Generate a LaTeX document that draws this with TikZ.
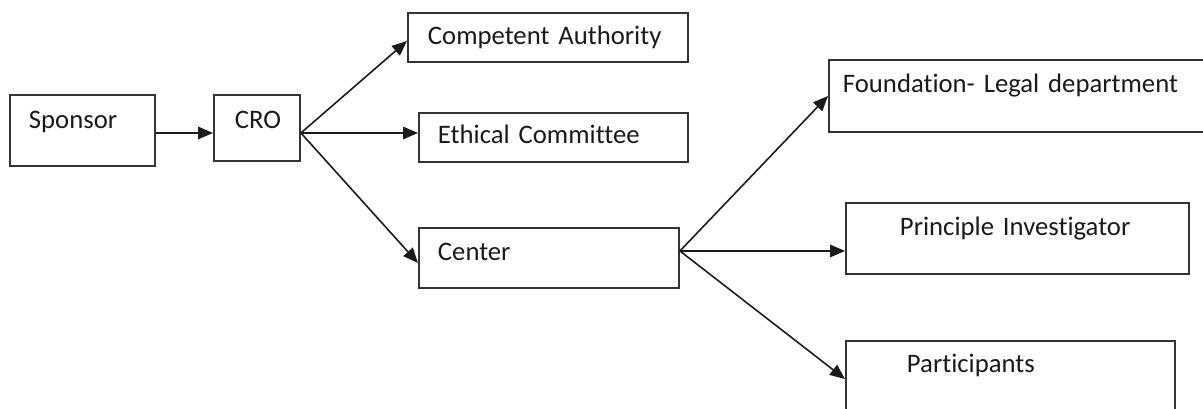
\documentclass[tikz,border=0pt]{standalone}
\usepackage{fontspec}
\setmainfont{Carlito}[Ligatures=CommonOff, WordSpace=0.8]
\usetikzlibrary{arrows.meta}

\definecolor{boxgray}{HTML}{333333}
\definecolor{textblack}{HTML}{1A1A1A}

\begin{document}
\begin{tikzpicture}[
    box/.style n args={4}{rectangle, draw=boxgray, line width=1.1pt, anchor=north west,
                inner sep=0pt, align=left, text=textblack,
                font=\fontsize{15.2}{18}\selectfont,
                text width=#1cm, text height=#2cm, text depth=#3cm,
                execute at begin node={\hspace*{#4cm}}},
    arrow/.style={-{Triangle[length=0.3cm,width=0.25cm]}, line width=0.9pt, draw=textblack}
]
\useasboundingbox (0,0) rectangle (24.06,-8.16);

% left part
\node[box={2.90}{0.68}{0.74}{0.38}] (sponsor) at (0.18,-1.88) {Sponsor};
\node[box={1.72}{0.68}{0.64}{0.42}] (cro) at (4.26,-1.88) {CRO};
\node[box={5.60}{0.64}{0.34}{0.40}] (ca) at (8.14,-0.24) {Competent Authority};
\node[box={5.38}{0.62}{0.36}{0.38}] (ec) at (8.36,-2.24) {Ethical Committee};
\node[box={5.20}{0.66}{0.54}{0.38}] (center) at (8.36,-4.54) {Center};

% right part
\node[box={7.74}{0.66}{0.78}{0.28}] (found) at (16.56,-1.18) {Foundation- Legal department};
\node[box={6.86}{0.66}{0.76}{1.08}] (pi) at (16.90,-4.04) {Principle Investigator};
\node[box={6.58}{0.64}{0.96}{1.22}] (part) at (16.90,-6.80) {Participants};

\coordinate (crofan) at ([yshift=-0.1cm]cro.east);
\coordinate (cenfan) at ([yshift=0.14cm]center.east);

\draw[arrow] (sponsor.east |- crofan) -- (cro.west |- crofan);
\draw[arrow] (crofan) -- ([yshift=-0.07cm]ca.west);
\draw[arrow] (crofan) -- (ec.west |- crofan);
\draw[arrow] (crofan) -- ([yshift=-0.1cm]center.west);
\draw[arrow] (cenfan) -- (found.west);
\draw[arrow] (cenfan) -- (pi.west |- cenfan);
\draw[arrow] (cenfan) -- ([yshift=0.04cm]part.west);
\end{tikzpicture}
\end{document}
